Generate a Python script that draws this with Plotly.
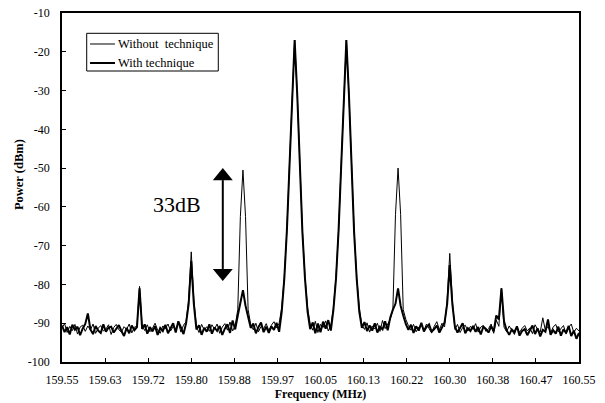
import plotly.graph_objects as go

# ---- data ----
freq_start_mhz = 159.55
freq_step_mhz = 0.005

power_without_dbm = [
    -91.2, -90.1, -92.4, -90.8, -91.9, -90.3, -92.8, -91.0, -90.5, -92.1,
    -90.7, -91.8, -90.2, -92.6, -91.3, -90.6, -92.0, -91.5, -90.4, -92.9,
    -91.1, -90.3, -91.7, -92.3, -90.9, -91.6, -90.2, -92.5, -91.0, -90.8,
    -80.5, -90.6, -91.9, -90.4, -92.2, -91.3, -90.0, -91.8, -92.6, -90.7,
    -91.4, -90.2, -92.0, -90.9, -91.6, -89.8, -92.3, -90.5, -89.6, -84.0,
    -71.6, -84.0, -90.8, -92.4, -90.3, -91.7, -90.9, -92.1, -90.4, -91.5,
    -90.2, -92.6, -91.0, -90.1, -91.8, -89.7, -92.0, -90.6, -86.5, -62.5,
    -50.5, -62.5, -86.5, -90.3, -91.7, -90.0, -92.2, -90.8, -91.4, -90.1,
    -91.9, -90.5, -89.6, -91.2, -90.0, -86.0, -78.0, -66.0, -49.0, -31.0,
    -17.0, -31.0, -49.0, -66.0, -78.0, -86.0, -90.2, -91.8, -89.5, -92.4,
    -90.3, -91.1, -89.4, -92.0, -90.6, -86.0, -78.0, -66.0, -49.0, -31.0,
    -17.0, -31.0, -49.0, -66.0, -78.0, -86.0, -90.4, -91.6, -89.9, -92.3,
    -90.7, -91.5, -90.0, -92.1, -89.3, -91.4, -90.2, -89.0, -86.5, -62.0,
    -50.0, -62.0, -86.5, -89.0, -90.6, -91.8, -90.3, -92.2, -91.0, -90.4,
    -91.9, -90.2, -91.4, -92.5, -90.8, -89.6, -91.7, -90.0, -90.9, -84.0,
    -72.0, -84.0, -91.6, -90.3, -92.4, -91.1, -90.5, -92.0, -90.8, -91.6,
    -90.1, -92.3, -91.0, -90.6, -92.1, -91.4, -90.2, -92.6, -89.2, -90.8,
    -81.0, -91.0, -92.2, -90.7, -91.8, -92.9, -90.9, -92.4, -91.3, -90.6,
    -92.0, -91.2, -92.7, -90.4, -91.6, -92.3, -88.6, -91.9, -90.8, -92.5,
    -91.0, -90.3, -92.2, -91.5, -90.6, -92.8, -91.1, -90.2, -92.4, -91.3,
    -92.0,
]

power_with_dbm = [
    -90.6, -92.3, -91.0, -92.9, -90.4, -91.7, -90.9, -93.1, -91.4, -90.2,
    -87.5, -91.6, -92.8, -90.7, -91.9, -92.5, -90.3, -92.2, -91.1, -90.9,
    -92.4, -91.3, -90.5, -92.0, -93.3, -91.2, -92.6, -90.6, -91.8, -91.0,
    -81.0, -91.5, -90.3, -92.7, -91.0, -92.1, -90.8, -93.0, -91.2, -92.0,
    -90.4, -92.6, -91.3, -90.0, -92.4, -89.5, -91.1, -92.8, -90.0, -85.0,
    -74.0, -85.0, -91.6, -90.5, -93.0, -91.2, -92.2, -90.3, -92.7, -91.1,
    -92.0, -90.7, -93.0, -91.4, -90.3, -92.5, -89.3, -91.6, -88.0, -85.0,
    -81.5, -85.5, -88.5, -91.2, -90.1, -92.6, -91.0, -89.8, -92.3, -90.9,
    -92.5, -90.8, -91.7, -89.9, -92.2, -87.0, -78.5, -66.0, -49.5, -31.0,
    -17.0, -31.0, -49.5, -66.5, -78.5, -87.0, -91.5, -89.8, -92.6, -90.1,
    -92.3, -89.6, -91.4, -89.2, -91.9, -86.5, -78.5, -66.0, -49.5, -31.0,
    -17.0, -31.0, -49.5, -66.5, -78.5, -87.0, -91.2, -89.7, -92.0, -90.6,
    -91.9, -90.0, -92.4, -90.9, -91.6, -89.5, -91.8, -88.5, -86.5, -85.0,
    -81.0, -85.5, -88.0, -90.2, -91.7, -90.4, -92.5, -90.8, -91.9, -89.9,
    -92.1, -91.0, -90.3, -92.2, -91.5, -90.6, -92.4, -91.1, -89.8, -85.0,
    -75.0, -85.0, -90.9, -92.4, -91.2, -90.0, -92.6, -91.3, -92.0, -90.7,
    -92.2, -91.0, -92.9, -90.9, -91.5, -92.4, -90.8, -92.1, -88.0, -89.0,
    -81.0, -89.5, -91.8, -93.0, -91.6, -92.3, -90.8, -93.2, -92.0, -91.5,
    -93.1, -91.9, -90.6, -92.8, -91.3, -93.4, -91.7, -92.2, -89.0, -93.0,
    -91.8, -92.7, -90.9, -93.2, -91.6, -92.5, -90.7, -93.3, -91.9, -94.0,
    -92.5,
]

x_tick_values = [159.55, 159.6333, 159.7167, 159.80, 159.8833, 159.9667, 160.05,
                 160.1333, 160.2167, 160.30, 160.3833, 160.4667, 160.55]
x_tick_labels = ["159.55", "159.63", "159.72", "159.80", "159.88", "159.97", "160.05",
                 "160.13", "160.22", "160.30", "160.38", "160.47", "160.55"]
y_tick_values = [-100, -90, -80, -70, -60, -50, -40, -30, -20, -10]
y_tick_labels = ["-100", "-90", "-80", "-70", "-60", "-50", "-40", "-30", "-20", "-10"]

series_names = ["Without\u00a0 technique", "With technique"]
series_widths = [1, 2]

# annotation: 33 dB double arrow
arrow_x = 159.861
arrow_top = -50.0
arrow_bottom = -79.1
arrow_label = "33dB"

FONT = "Liberation Serif"

fig = go.Figure()
for name, ys, w in zip(series_names, [power_without_dbm, power_with_dbm], series_widths):
    fig.add_trace(go.Scatter(
        x0=freq_start_mhz, dx=freq_step_mhz, y=ys,
        mode="lines", name=name, showlegend=False,
        line=dict(color="black", width=w),
    ))

# arrow shapes (head sizes in data units)
head_half_w = 0.0193
head_h = 3.1
fig.add_shape(type="line", x0=arrow_x, x1=arrow_x, y0=arrow_top - head_h, y1=arrow_bottom + head_h,
              line=dict(color="black", width=2))
fig.add_shape(type="path",
              path=f"M {arrow_x},{arrow_top} L {arrow_x - head_half_w},{arrow_top - head_h} "
                   f"L {arrow_x + head_half_w},{arrow_top - head_h} Z",
              fillcolor="black", line=dict(color="black", width=0))
fig.add_shape(type="path",
              path=f"M {arrow_x},{arrow_bottom} L {arrow_x - head_half_w},{arrow_bottom + head_h} "
                   f"L {arrow_x + head_half_w},{arrow_bottom + head_h} Z",
              fillcolor="black", line=dict(color="black", width=0))

fig.add_annotation(x=159.772, y=-59.3, text=arrow_label, showarrow=False,
                   font=dict(family=FONT, size=22, color="black"))

# legend box drawn in paper coordinates
leg_x0, leg_x1, leg_y0, leg_y1 = 0.0478, 0.3023, 0.8338, 0.9418
fig.add_shape(type="rect", xref="paper", yref="paper", x0=leg_x0, x1=leg_x1, y0=leg_y0, y1=leg_y1,
              line=dict(color="black", width=1), fillcolor="white", layer="above")
for name, w, ly in zip(series_names, series_widths, [0.9112, 0.8567]):
    fig.add_shape(type="line", xref="paper", yref="paper", x0=0.0542, x1=0.1025, y0=ly, y1=ly,
                  line=dict(color="black", width=w), layer="above")
    fig.add_annotation(xref="paper", yref="paper", x=0.1044, y=ly, xanchor="left", yanchor="middle",
                       text=name, showarrow=False, font=dict(family=FONT, size=12.5, color="black"))

# y-axis title as annotation (offset upward as in the reference)
fig.add_annotation(xref="paper", yref="paper", x=-0.0841, y=0.537, xanchor="center", yanchor="middle",
                   text="<b>Power (dBm)</b>", textangle=-90, showarrow=False,
                   font=dict(family=FONT, size=12.5, color="black"))

fig.update_layout(
    width=605, height=403,
    margin=dict(l=62, r=26, t=13, b=41),
    paper_bgcolor="white", plot_bgcolor="white",
    font=dict(family=FONT, color="black", size=12),
    showlegend=False,
)
fig.update_xaxes(
    range=[159.55, 160.55], tickmode="array", tickvals=x_tick_values, ticktext=x_tick_labels,
    ticks="inside", ticklen=4, tickcolor="black", tickwidth=1,
    showline=True, linecolor="black", linewidth=1.5, mirror=True,
    showgrid=False, zeroline=False, automargin=False,
    tickfont=dict(family=FONT, size=12, color="black"),
    ticklabelstandoff=6,
    title=dict(text="<b>Frequency (MHz)</b>", font=dict(family=FONT, size=12, color="black"), standoff=2),
)
fig.update_yaxes(
    range=[-100, -10], tickmode="array", tickvals=y_tick_values, ticktext=y_tick_labels,
    ticks="inside", ticklen=4, tickcolor="black", tickwidth=1,
    showline=True, linecolor="black", linewidth=1.5, mirror=True,
    showgrid=False, zeroline=False, automargin=False,
    tickfont=dict(family=FONT, size=12, color="black"),
    ticklabelstandoff=8,
)

fig.write_html("out.html")
